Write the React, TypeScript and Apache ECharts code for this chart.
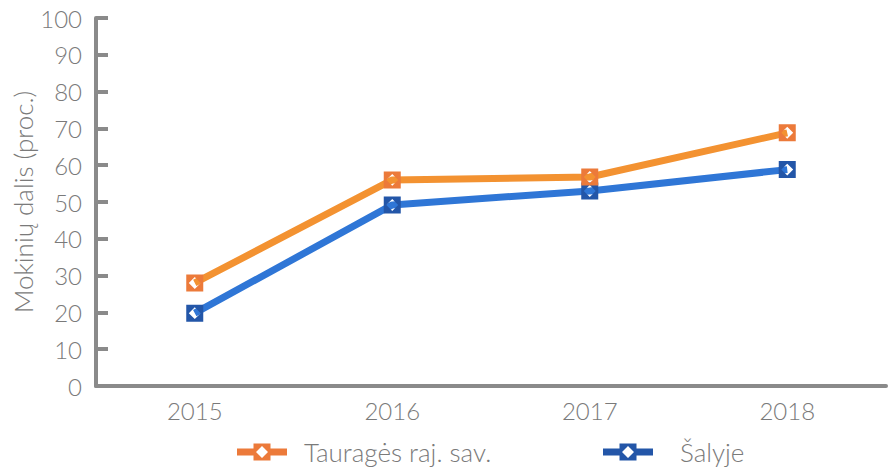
import React, { useEffect, useRef } from "react";
import * as echarts from "echarts";

const years = ["2015", "2016", "2017", "2018"];
const taurages = [28, 56, 56.8, 68.8];
const salyje = [19.8, 49.2, 53, 58.8];
const seriesNames = ["Tauragės raj. sav.", "Šalyje"];

const markerPath = "path://M0,0 L10,0 L10,10 L0,10 Z M5,1.5 L1.5,5 L5,8.5 L8.5,5 Z";
const legendPath =
  "path://M0,5 L16.5,5 L16.5,12 L0,12 Z M33.5,5 L50,5 L50,12 L33.5,12 Z M16.5,0 L33.5,0 L33.5,17 L16.5,17 Z M25,2.5 L19,8.5 L25,14.5 L31,8.5 Z";

export default function App() {
  const ref = useRef<HTMLDivElement>(null);
  useEffect(() => {
    const chart = echarts.init(ref.current!, null, { renderer: "svg" });
    const font = "Lato, 'Open Sans', sans-serif";
    const gray = "#7a7a7a";
    const axisColor = "#8a8a8a";
    const legendText = { color: gray, fontSize: 26, fontFamily: font, fontWeight: 300, padding: [0, 0, 0, 12] };
    chart.setOption({
      animation: false,
      backgroundColor: "#ffffff",
      grid: { left: 96, right: 4, top: 18, bottom: 82, outerBoundsMode: "none", containLabel: false },
      legend: [
        {
          data: [seriesNames[0]],
          left: 232,
          top: 434,
          itemWidth: 50,
          itemHeight: 17,
          itemGap: 18,
          icon: legendPath,
          textStyle: legendText,
        },
        {
          data: [seriesNames[1]],
          left: 598,
          top: 434,
          itemWidth: 50,
          itemHeight: 17,
          icon: legendPath,
          textStyle: { ...legendText, padding: [0, 0, 0, 22] },
        },
      ],
      xAxis: {
        type: "category",
        data: years,
        boundaryGap: true,
        axisLine: { lineStyle: { color: axisColor, width: 4 } },
        axisTick: { inside: true, length: 10, lineStyle: { color: axisColor, width: 4 } },
        axisLabel: { color: gray, fontSize: 24, fontFamily: font, fontWeight: 300, margin: 12 },
        splitLine: { show: false },
      },
      yAxis: {
        type: "value",
        min: 0,
        max: 100,
        interval: 10,
        name: "Mokinių dalis (proc.)",
        nameLocation: "middle",
        nameGap: 60,
        nameMoveOverlap: false,
        nameTextStyle: { color: gray, fontSize: 26, fontFamily: font, fontWeight: 300 },
        axisLine: { show: true, lineStyle: { color: axisColor, width: 4 } },
        axisTick: { show: true, inside: true, length: 12, lineStyle: { color: axisColor, width: 4 } },
        axisLabel: { color: gray, fontSize: 24, fontFamily: font, fontWeight: 300, margin: 14 },
        splitLine: { show: false },
      },
      series: [
        {
          name: seriesNames[0],
          type: "line",
          data: taurages,
          symbol: markerPath,
          symbolSize: 17,
          showAllSymbol: true,
          lineStyle: { color: "#F39231", width: 7 },
          itemStyle: { color: "#EC7A3A" },
          z: 3,
        },
        {
          name: seriesNames[1],
          type: "line",
          data: salyje,
          symbol: markerPath,
          symbolSize: 17,
          showAllSymbol: true,
          lineStyle: { color: "#2F76D6", width: 7 },
          itemStyle: { color: "#2356A8" },
          z: 2,
        },
      ],
    });
    return () => chart.dispose();
  }, []);
  return <div ref={ref} style={{ width: 890, height: 468, position: "absolute", left: 0, top: 0 }} />;
}
